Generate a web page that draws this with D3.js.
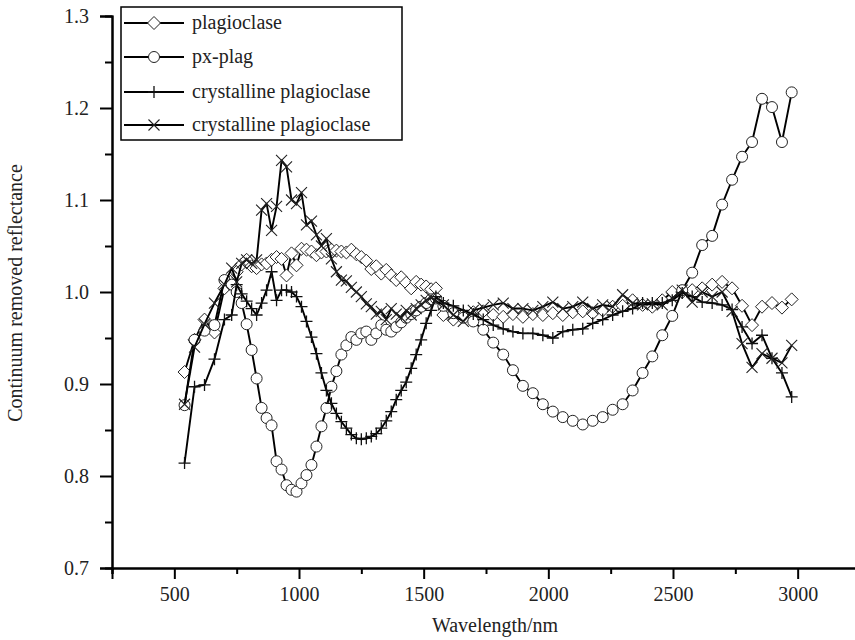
<!DOCTYPE html>
<html>
<head>
<meta charset="utf-8">
<script src="https://cdn.jsdelivr.net/npm/d3@7"></script>
<style>
  body { margin: 0; background: #fff; }
  svg, svg text { font-family: "Liberation Serif", "Times New Roman", serif !important; }
</style>
</head>
<body>
<div id="chart"></div>
<script>

// M3 band centres (nm)
var wavelength = [
    541, 581, 621, 661, 701, 730, 750, 770, 790, 810,
    830, 850, 870, 890, 910, 930, 950, 970, 990, 1010,
    1030, 1050, 1070, 1090, 1110, 1130, 1150, 1170, 1190, 1210,
    1230, 1250, 1270, 1290, 1310, 1330, 1350, 1370, 1390, 1410,
    1430, 1450, 1470, 1490, 1510, 1530, 1549, 1579, 1619, 1659,
    1699, 1739, 1779, 1819, 1858, 1898, 1938, 1978, 2018, 2058,
    2098, 2138, 2178, 2218, 2258, 2298, 2338, 2378, 2417, 2457,
    2497, 2537, 2577, 2617, 2657, 2697, 2737, 2777, 2817, 2857,
    2897, 2937, 2976
];

var plagioclase = [
    0.913, 0.948, 0.970, 0.956, 1.004, 1.012, 1.022, 1.030, 1.035, 1.028,
    1.026, 1.030, 1.031, 1.035, 1.038, 1.036, 1.018, 1.042, 1.029, 1.047,
    1.046, 1.044, 1.040, 1.043, 1.044, 1.046, 1.045, 1.044, 1.043, 1.046,
    1.041, 1.038, 1.034, 1.025, 1.028, 1.020, 1.024, 1.018, 1.013, 1.016,
    1.010, 1.004, 1.011, 1.008, 1.006, 1.003, 1.004, 0.975, 0.970, 0.975,
    0.978, 0.979, 0.975, 0.973, 0.976, 0.973, 0.976, 0.975, 0.977, 0.975,
    0.978, 0.979, 0.977, 0.980, 0.984, 0.985, 0.991, 0.986, 0.984, 0.991,
    1.000, 1.000, 1.002, 1.004, 1.008, 1.011, 1.004, 0.985, 0.964, 0.984,
    0.988, 0.983, 0.992
];

var pxPlag = [
    0.877, 0.948, 0.958, 0.964, 1.013, 1.008, 1.000, 0.988, 0.965, 0.937,
    0.906, 0.874, 0.863, 0.855, 0.816, 0.807, 0.790, 0.785, 0.783, 0.792,
    0.801, 0.812, 0.832, 0.854, 0.874, 0.897, 0.914, 0.932, 0.942, 0.951,
    0.948, 0.955, 0.957, 0.948, 0.955, 0.964, 0.959, 0.957, 0.962, 0.967,
    0.972, 0.976, 0.980, 0.984, 0.988, 0.992, 0.993, 0.985, 0.977, 0.972,
    0.968, 0.959, 0.945, 0.932, 0.915, 0.898, 0.890, 0.878, 0.870, 0.864,
    0.860, 0.856, 0.860, 0.864, 0.872, 0.878, 0.893, 0.912, 0.930, 0.953,
    0.974, 1.002, 1.021, 1.051, 1.061, 1.095, 1.122, 1.147, 1.163, 1.210,
    1.201, 1.163, 1.217
];

var crystPlagA = [
    0.814, 0.897, 0.899, 0.927, 0.970, 0.975, 1.008, 0.998, 0.990, 0.982,
    0.975, 0.988, 1.002, 1.022, 0.991, 1.002, 1.002, 1.000, 0.995, 0.984,
    0.968, 0.951, 0.933, 0.912, 0.893, 0.879, 0.868, 0.859, 0.852, 0.845,
    0.841, 0.840, 0.841, 0.843, 0.846, 0.852, 0.860, 0.870, 0.883, 0.893,
    0.902, 0.917, 0.932, 0.948, 0.966, 0.980, 0.995, 0.988, 0.985, 0.980,
    0.976, 0.970, 0.964, 0.960, 0.957, 0.955, 0.955, 0.953, 0.950, 0.957,
    0.959, 0.960, 0.966, 0.970, 0.975, 0.979, 0.982, 0.988, 0.988, 0.988,
    0.991, 0.999, 0.995, 0.989, 0.988, 0.986, 0.981, 0.962, 0.944, 0.953,
    0.928, 0.912, 0.886
];

var crystPlagB = [
    0.878, 0.940, 0.965, 0.988, 1.008, 1.026, 1.011, 1.031, 1.035, 1.031,
    1.035, 1.089, 1.096, 1.067, 1.093, 1.143, 1.136, 1.100, 1.096, 1.108,
    1.073, 1.077, 1.062, 1.050, 1.058, 1.036, 1.022, 1.013, 1.012, 1.005,
    1.000, 0.995, 0.987, 0.984, 0.976, 0.979, 0.970, 0.982, 0.976, 0.972,
    0.980, 0.975, 0.982, 0.986, 0.991, 0.994, 0.990, 0.986, 0.975, 0.968,
    0.980, 0.983, 0.986, 0.988, 0.982, 0.982, 0.980, 0.984, 0.989, 0.982,
    0.984, 0.989, 0.982, 0.986, 0.984, 0.997, 0.988, 0.986, 0.987, 0.986,
    0.993, 1.002, 0.989, 1.000, 0.995, 1.000, 0.979, 0.944, 0.918, 0.933,
    0.928, 0.923, 0.942
];

var seriesNames = ["plagioclase", "px-plag", "crystalline plagioclase", "crystalline plagioclase"];
var seriesValues = [plagioclase, pxPlag, crystPlagA, crystPlagB];
var seriesMarkers = ["diamond", "circle", "plus", "cross"];

var xTicks = [500, 1000, 1500, 2000, 2500, 3000];
var xMinorTicks = [250, 750, 1250, 1750, 2250, 2750, 3250];
var yTicks = [0.7, 0.8, 0.9, 1.0, 1.1, 1.2, 1.3];
var yMinorTicks = [0.75, 0.85, 0.95, 1.05, 1.15, 1.25];

var width = 855, height = 640;
var serif = "'Liberation Serif', 'Times New Roman', serif";

var svg = d3.select("#chart").append("svg")
    .attr("width", width)
    .attr("height", height);

var x = d3.scaleLinear().domain([250, 3250]).range([112, 860]);
var y = d3.scaleLinear().domain([0.7, 1.3]).range([568, 16]);

// Axes
var xAxis = svg.append("g")
    .attr("transform", "translate(0," + y(0.7) + ")")
    .call(d3.axisBottom(x).tickValues(xTicks).tickSize(11).tickPadding(8).tickFormat(d3.format("d")));
xAxis.append("g")
    .call(d3.axisBottom(x).tickValues(xMinorTicks).tickSize(6).tickFormat(""));

var yAxis = svg.append("g")
    .attr("transform", "translate(" + x(250) + ",0)")
    .call(d3.axisLeft(y).tickValues(yTicks).tickSize(12).tickPadding(11).tickFormat(d3.format(".1f")));
yAxis.append("g")
    .call(d3.axisLeft(y).tickValues(yMinorTicks).tickSize(7).tickFormat(""));

svg.selectAll("g").attr("font-family", null);
svg.selectAll(".domain").attr("stroke", "#000").attr("stroke-width", 2);
svg.selectAll(".tick line").attr("stroke", "#000").attr("stroke-width", 2);
svg.selectAll(".tick text")
    .style("font-family", serif)
    .style("font-size", "20px")
    .attr("fill", "#222");

// Axis titles
svg.append("text")
    .attr("x", 495)
    .attr("y", 632)
    .attr("text-anchor", "middle")
    .style("font-size", "20px")
    .attr("fill", "#222")
    .text("Wavelength/nm");

svg.append("text")
    .attr("transform", "translate(22," + 293 + ") rotate(-90)")
    .attr("text-anchor", "middle")
    .style("font-size", "20px")
    .attr("fill", "#222")
    .text("Continuum removed reflectance");

// Marker drawing
function drawMarker(g, type, cx, cy) {
    if (type === "diamond") {
        g.append("path")
            .attr("d", "M" + cx + "," + (cy - 6.5) + "L" + (cx + 6.5) + "," + cy +
                       "L" + cx + "," + (cy + 6.5) + "L" + (cx - 6.5) + "," + cy + "Z")
            .attr("fill", "#fff").attr("stroke", "#222").attr("stroke-width", 1);
    } else if (type === "circle") {
        g.append("circle")
            .attr("cx", cx).attr("cy", cy).attr("r", 5.5)
            .attr("fill", "#fff").attr("stroke", "#222").attr("stroke-width", 1);
    } else if (type === "plus") {
        g.append("path")
            .attr("d", "M" + (cx - 6) + "," + cy + "H" + (cx + 6) + "M" + cx + "," + (cy - 6) + "V" + (cy + 6))
            .attr("stroke", "#111").attr("stroke-width", 1.3);
    } else {
        g.append("path")
            .attr("d", "M" + (cx - 5.5) + "," + (cy - 5.5) + "L" + (cx + 5.5) + "," + (cy + 5.5) +
                       "M" + (cx + 5.5) + "," + (cy - 5.5) + "L" + (cx - 5.5) + "," + (cy + 5.5))
            .attr("stroke", "#222").attr("stroke-width", 1.1);
    }
}

var line = d3.line()
    .x(function(d, i) { return x(wavelength[i]); })
    .y(function(d) { return y(d); });

// Draw series in legend order
seriesValues.forEach(function(vals, s) {
    var g = svg.append("g").attr("class", "series");
    g.append("path")
        .datum(vals)
        .attr("d", line)
        .attr("fill", "none")
        .attr("stroke", "#000")
        .attr("stroke-width", 1.9)
        .attr("stroke-linejoin", "round");
    vals.forEach(function(v, i) {
        drawMarker(g, seriesMarkers[s], x(wavelength[i]), y(v));
    });
});

// Legend
var legend = svg.append("g").attr("class", "legend");
legend.append("rect")
    .attr("x", 121).attr("y", 7)
    .attr("width", 281).attr("height", 133)
    .attr("fill", "#fff")
    .attr("stroke", "#000")
    .attr("stroke-width", 1.5);

var rowY = [23, 57, 92, 125];
seriesNames.forEach(function(name, i) {
    legend.append("line")
        .attr("x1", 124).attr("x2", 184)
        .attr("y1", rowY[i]).attr("y2", rowY[i])
        .attr("stroke", "#000").attr("stroke-width", 1.9);
    drawMarker(legend, seriesMarkers[i], 154, rowY[i]);
    legend.append("text")
        .attr("x", 192)
        .attr("y", rowY[i])
        .attr("dy", "0.3em")
        .style("font-size", "20px")
        .attr("fill", "#222")
        .text(name);
});

</script>
</body>
</html>
